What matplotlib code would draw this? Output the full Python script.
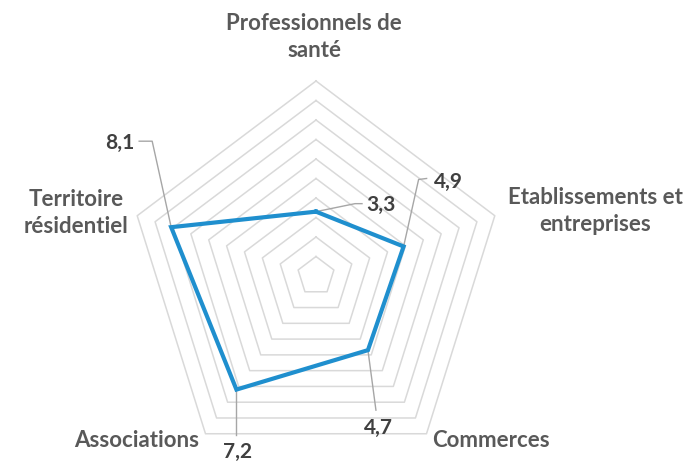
'''radar chart of scores by category
'''
import numpy as np
import matplotlib
matplotlib.use('Agg')
import matplotlib.pyplot as plt

categories = ['Professionnels de\nsanté', 'Etablissements et\nentreprises', 'Commerces',
              'Associations', 'Territoire\nrésidentiel']
values = [3.3, 4.9, 4.7, 7.2, 8.1]
value_labels = ['3,3', '4,9', '4,7', '7,2', '8,1']
rings = np.arange(1, 11)

W, H = 698, 469
CX, CY = 316, 276          # centre in pixels
SX, SY = 18.8, 19.5        # pixels per unit

plt.rcParams['font.family'] = ['Lato', 'DejaVu Sans']

fig = plt.figure(figsize=(W / 100, H / 100), dpi=100)
ax = fig.add_axes([0, 0, 1, 1])
ax.set_xlim(-CX / SX, (W - CX) / SX)
ax.set_ylim(-(H - CY) / SY, CY / SY)
ax.axis('off')

n = len(categories)
angles = np.pi / 2 - np.arange(n) * 2 * np.pi / n
cosa, sina = np.cos(angles), np.sin(angles)

def px(x, y):
    '''pixel position -> data coords'''
    return (x - CX) / SX, (CY - y) / SY

# grid rings
for r in rings:
    xs = np.append(r * cosa, r * cosa[0])
    ys = np.append(r * sina, r * sina[0])
    ax.plot(xs, ys, color='#d9d9d9', lw=1.1, zorder=1)

# series
v = np.array(values)
ax.plot(np.append(v * cosa, v[0] * cosa[0]), np.append(v * sina, v[0] * sina[0]),
        color='#1F8FCE', lw=3, solid_joinstyle='miter', zorder=3)

# category labels
cat_pos = [(314, 37), (595, 211), (491, 440), (137, 440), (76, 213)]
for lab, (x, y) in zip(categories, cat_pos):
    ax.text(*px(x, y), lab, ha='center', va='center', fontsize=16,
            fontweight='bold', color='#595959', linespacing=1.4)

# value labels with leader lines (pixel offsets from the point)
leaders = [[(39, -8), (46, -8)],
           [(15, -67), (23, -68)],
           [(8, 60)],
           [(0, 45)],
           [(-19, -86), (-32, -86)]]
text_pos = [(381, 205), (448, 182), (378, 428), (238, 452), (120, 143)]
for i in range(n):
    x0 = values[i] * cosa[i] * SX + CX
    y0 = CY - values[i] * sina[i] * SY
    pts = [(x0, y0)] + [(x0 + dx, y0 + dy) for dx, dy in leaders[i]]
    dp = [px(a, b) for a, b in pts]
    ax.plot([p[0] for p in dp], [p[1] for p in dp], color='#a6a6a6', lw=1, zorder=2)
    ax.text(*px(*text_pos[i]), value_labels[i], ha='center', va='center',
            fontsize=15, fontweight='bold', color='#404040')

fig.savefig('out.png', dpi=100)
